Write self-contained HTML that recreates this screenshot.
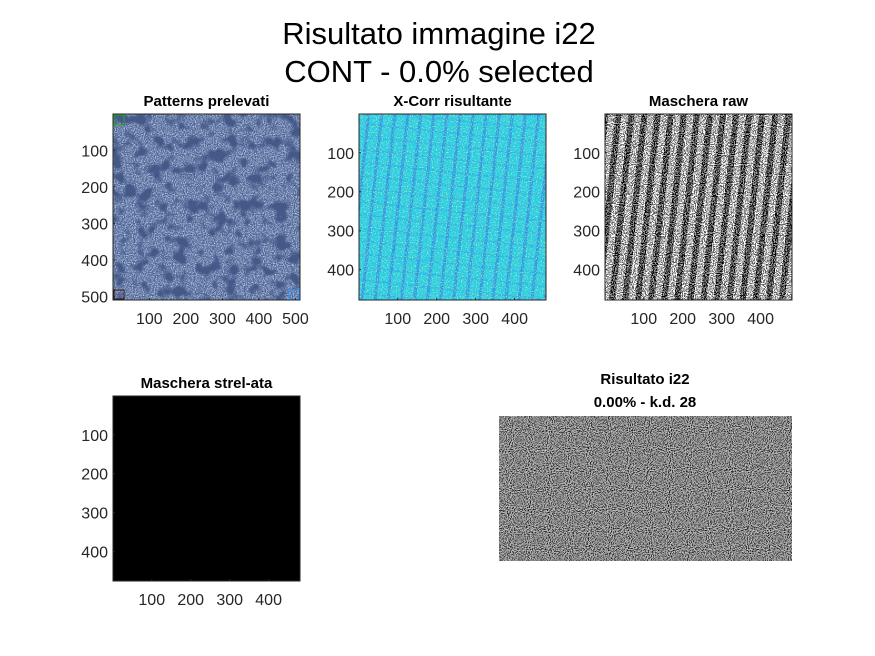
<!DOCTYPE html>
<html><head><meta charset="utf-8"><style>
html,body{margin:0;padding:0;background:#fff;}
svg{display:block;font-family:"Liberation Sans",Arial,sans-serif;}
</style></head><body>
<svg id="fig" width="875" height="656" viewBox="0 0 875 656">
<defs>
  <filter id="noiseBlue" x="0" y="0" width="100%" height="100%">
    <feTurbulence type="fractalNoise" baseFrequency="0.9" numOctaves="1" seed="3" result="n"/>
    <feColorMatrix in="n" type="matrix" values="0 0 0 0 0.75  0 0 0 0 0.82  0 0 0 0 0.95  2.2 0 0 0 -0.85"/>
  </filter>
  <filter id="blotch" x="0" y="0" width="100%" height="100%">
    <feTurbulence type="fractalNoise" baseFrequency="0.08" numOctaves="2" seed="8" result="n"/>
    <feColorMatrix in="n" type="matrix" values="0 0 0 0 0.06  0 0 0 0 0.1  0 0 0 0 0.25  -5 0 0 0 2.6"/>
  </filter>
  <filter id="noiseYellow" x="0" y="0" width="100%" height="100%">
    <feTurbulence type="fractalNoise" baseFrequency="0.8" numOctaves="1" seed="5" result="n"/>
    <feColorMatrix in="n" type="matrix" values="0 0 0 0 0.65  0 0 0 0 0.95  0 0 0 0 0.35  3 0 0 0 -1.5"/>
  </filter>
  <filter id="noiseBW" x="0" y="0" width="100%" height="100%">
    <feTurbulence type="fractalNoise" baseFrequency="0.9" numOctaves="1" seed="11" result="n"/>
    <feColorMatrix in="n" type="matrix" values="1 0 0 0 0  1 0 0 0 0  1 0 0 0 0  0 0 0 0 1" result="g"/>
    <feComponentTransfer in="g"><feFuncR type="discrete" tableValues="0 1"/><feFuncG type="discrete" tableValues="0 1"/><feFuncB type="discrete" tableValues="0 1"/><feFuncA type="linear" slope="0" intercept="0.62"/></feComponentTransfer>
  </filter>
  <filter id="noiseGray" x="0" y="0" width="100%" height="100%">
    <feTurbulence type="fractalNoise" baseFrequency="0.95" numOctaves="1" seed="2" result="n"/>
    <feColorMatrix in="n" type="matrix" values="3 0 0 0 -1.15  3 0 0 0 -1.15  3 0 0 0 -1.15  0 0 0 0 1"/>
  </filter>
  <pattern id="stripesBlue" width="13" height="13" patternUnits="userSpaceOnUse" patternTransform="rotate(6)">
    <rect width="13" height="13" fill="#28cbe8"/>
    <rect x="0" width="3" height="13" fill="#2f8ee6" opacity="0.8"/>
    <rect y="6" width="13" height="2" fill="#2a9ee8" opacity="0.4"/>
  </pattern>
  <pattern id="stripesBW" width="13" height="13" patternUnits="userSpaceOnUse" patternTransform="rotate(6)">
    <rect width="13" height="13" fill="#fff"/>
    <rect x="0" width="6" height="13" fill="#000"/>
  </pattern>
</defs>
<g font-size="31" text-anchor="middle" fill="#000">
  <text x="439" y="44">Risultato immagine i22</text>
  <text x="439" y="82">CONT - 0.0% selected</text>
</g>
<g id="axes" font-size="16" fill="#262626"></g>
</svg>
<script>
const panelTitles = ["Patterns prelevati","X-Corr risultante","Maschera raw","Maschera strel-ata"];
const yTicks1 = [100,200,300,400,500];
const xTicks1 = [100,200,300,400,500];
const yTicks2 = [100,200,300,400];
const xTicks2 = [100,200,300,400];
const ranges = [512,480,480,480];
const NS="http://www.w3.org/2000/svg";
const g=document.getElementById('axes');
function mk(t,a,p){const e=document.createElementNS(NS,t);for(const k in a)e.setAttribute(k,a[k]);(p||g).appendChild(e);return e;}
const boxes=[[113,114,187,186],[359,114,187,186],[605,114,187,186],[113,396,187,185]];
boxes.forEach((b,i)=>{
  const [x,y,w,h]=b;
  const grp=mk('g',{});
  
  
  if(i===0){
    mk('rect',{x,y,width:w,height:h,fill:'#4a6294'},grp);
    mk('rect',{x,y,width:w,height:h,filter:'url(#noiseBlue)'},grp);
    mk('rect',{x,y,width:w,height:h,filter:'url(#blotch)'},grp);
    mk('rect',{x:x+1,y:y+1,width:10,height:10,fill:'none',stroke:'#2a2',"stroke-width":1},grp);
    mk('rect',{x:x+1,y:y+h-10,width:10,height:9,fill:'none',stroke:'#311',"stroke-width":1},grp);
    mk('rect',{x:x+w-11,y:y+h-10,width:10,height:9,fill:'none',stroke:'#39f',"stroke-width":1},grp);
  } else if(i===1){
    mk('rect',{x,y,width:w,height:h,fill:'url(#stripesBlue)'},grp);
    mk('rect',{x,y,width:w,height:h,filter:'url(#noiseYellow)'},grp);
  } else if(i===2){
    mk('rect',{x,y,width:w,height:h,fill:'url(#stripesBW)'},grp);
    mk('rect',{x,y,width:w,height:h,filter:'url(#noiseBW)'},grp);
  } else {
    mk('rect',{x,y,width:w,height:h,fill:'#000'},grp);
  }
  mk('rect',{x,y,width:w,height:h,fill:'none',stroke:'#262626',"stroke-width":1},grp);
  const t=mk('text',{x:x+w/2,y:y-8,"text-anchor":"middle","font-size":15,"font-weight":"bold",fill:'#000'},grp);
  t.textContent=panelTitles[i];
  
  
  const s=w/ranges[i];
  const yt=i===0?yTicks1:yTicks2, xt=i===0?xTicks1:xTicks2;
  yt.forEach(v=>{const yy=y+(v-0.5)*s;
    mk('line',{x1:x,x2:x+2,y1:yy,y2:yy,stroke:'#262626'},grp);
    const l=mk('text',{x:x-5,y:yy+6,"text-anchor":"end"},grp);l.textContent=v;
    
    });
  xt.forEach(v=>{const xx=x+(v-0.5)*s;
    mk('line',{x1:xx,x2:xx,y1:y+h,y2:y+h-2,stroke:'#262626'},grp);
    const l=mk('text',{x:xx,y:y+h+24,"text-anchor":"middle"},grp);l.textContent=v;
    
    });
});
const g5=mk('g',{});


mk('rect',{x:499,y:416,width:293,height:145,fill:'#666'},g5);
mk('rect',{x:499,y:416,width:293,height:145,filter:'url(#noiseGray)',opacity:0.7},g5);
const t1=mk('text',{x:645,y:384,"text-anchor":"middle","font-size":15,"font-weight":"bold",fill:'#000'},g5);t1.textContent='Risultato i22';
const t2=mk('text',{x:645,y:407,"text-anchor":"middle","font-size":15,"font-weight":"bold",fill:'#000'},g5);t2.textContent='0.00% - k.d. 28';
</script>
</body></html>
